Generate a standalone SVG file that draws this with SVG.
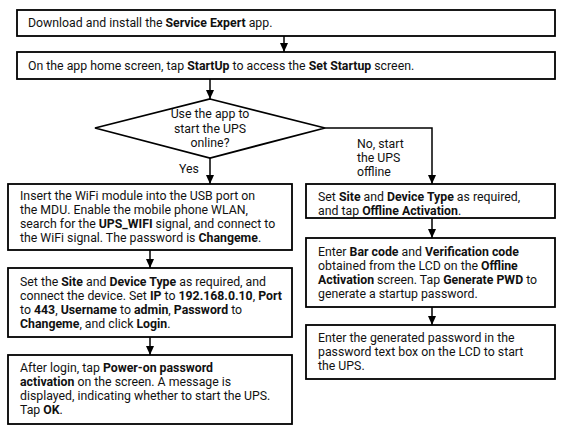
<svg xmlns="http://www.w3.org/2000/svg" width="573" height="438" viewBox="0 0 573 438">
<style>
.box{fill:#fff;stroke:#000;stroke-width:1.8}
.ln{fill:none;stroke:#000;stroke-width:1.5}
text{font-family:Roboto,"Open Sans",sans-serif;font-size:12.3px;fill:#111}
.b{font-weight:bold}
.c{text-anchor:middle}
</style>
<defs>
<marker id="ah" markerWidth="10" markerHeight="10" refX="9" refY="5" orient="auto" markerUnits="userSpaceOnUse">
<path d="M0,1 L9,5 L0,9 Z" fill="#000"/>
</marker>
</defs>
<rect width="573" height="438" fill="#fff"/>
<g id="connectors">
<line class="ln" x1="284" y1="36" x2="284" y2="52" marker-end="url(#ah)"/>
<line class="ln" x1="210" y1="79" x2="210" y2="99" marker-end="url(#ah)"/>
<line class="ln" x1="210" y1="158" x2="210" y2="184" marker-end="url(#ah)"/>
<polyline class="ln" points="325,128 432,128 432,184" marker-end="url(#ah)"/>
<line class="ln" x1="150" y1="250" x2="150" y2="268" marker-end="url(#ah)"/>
<line class="ln" x1="150" y1="337" x2="150" y2="355" marker-end="url(#ah)"/>
<line class="ln" x1="432" y1="218" x2="432" y2="238" marker-end="url(#ah)"/>
<line class="ln" x1="432" y1="307" x2="432" y2="325" marker-end="url(#ah)"/>
<text x="179" y="173">Yes</text>
<text x="357" y="148">No, start</text>
<text x="357" y="162">the UPS</text>
<text x="357" y="176">offline</text>
</g>
<g id="n1">
<rect class="box" x="17" y="10" width="538" height="26"/>
<text x="28" y="27">Download and install the <tspan class="b">Service Expert</tspan> app.</text>
</g>
<g id="n2">
<rect class="box" x="17" y="52" width="538" height="27"/>
<text x="28" y="70">On the app home screen, tap <tspan class="b">StartUp</tspan> to access the <tspan class="b">Set Startup</tspan> screen.</text>
</g>
<g id="decision">
<polygon class="box" points="210,99 325,128 210,158 95,128"/>
<text class="c" x="210" y="118">Use the app to</text>
<text class="c" x="210" y="133">start the UPS</text>
<text class="c" x="210" y="147">online?</text>
</g>
<g id="a1">
<rect class="box" x="8" y="184" width="284" height="66"/>
<text x="20" y="200">Insert the WiFi module into the USB port on</text>
<text x="20" y="214">the MDU. Enable the mobile phone WLAN,</text>
<text x="20" y="228">search for the <tspan class="b">UPS_WIFI</tspan> signal, and connect to</text>
<text x="20" y="242">the WiFi signal. The password is <tspan class="b">Changeme</tspan>.</text>
</g>
<g id="a2">
<rect class="box" x="8" y="268" width="284" height="69"/>
<text x="20" y="286">Set the <tspan class="b">Site</tspan> and <tspan class="b">Device Type</tspan> as required, and</text>
<text x="20" y="300">connect the device. Set <tspan class="b">IP</tspan> to <tspan class="b">192.168.0.10</tspan>, <tspan class="b">Port</tspan></text>
<text x="20" y="314">to <tspan class="b">443</tspan>, <tspan class="b">Username</tspan> to <tspan class="b">admin</tspan>, <tspan class="b">Password</tspan> to</text>
<text x="20" y="328"><tspan class="b">Changeme</tspan>, and click <tspan class="b">Login</tspan>.</text>
</g>
<g id="a3">
<rect class="box" x="8" y="355" width="284" height="69"/>
<text x="20" y="372">After login, tap <tspan class="b">Power-on password</tspan></text>
<text x="20" y="386"><tspan class="b">activation</tspan> on the screen. A message is</text>
<text x="20" y="400">displayed, indicating whether to start the UPS.</text>
<text x="20" y="414">Tap <tspan class="b">OK</tspan>.</text>
</g>
<g id="b1">
<rect class="box" x="306" y="184" width="249" height="34"/>
<text x="318" y="201">Set <tspan class="b">Site</tspan> and <tspan class="b">Device Type</tspan> as required,</text>
<text x="318" y="215">and tap <tspan class="b">Offline Activation</tspan>.</text>
</g>
<g id="b2">
<rect class="box" x="306" y="238" width="249" height="69"/>
<text x="318" y="256">Enter <tspan class="b">Bar code</tspan> and <tspan class="b">Verification code</tspan></text>
<text x="318" y="270">obtained from the LCD on the <tspan class="b">Offline</tspan></text>
<text x="318" y="284"><tspan class="b">Activation</tspan> screen. Tap <tspan class="b">Generate PWD</tspan> to</text>
<text x="318" y="298">generate a startup password.</text>
</g>
<g id="b3">
<rect class="box" x="306" y="325" width="249" height="54"/>
<text x="318" y="342">Enter the generated password in the</text>
<text x="318" y="356">password text box on the LCD to start</text>
<text x="318" y="370">the UPS.</text>
</g>
</svg>
